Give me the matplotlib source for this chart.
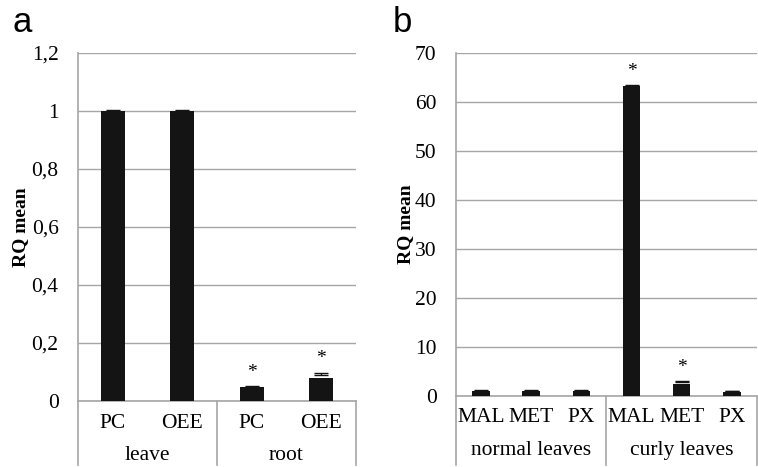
import matplotlib.pyplot as plt
import matplotlib.transforms as mtransforms

# panel a
a_labels = ['PC', 'OEE', 'PC', 'OEE']
a_values = [1.0, 1.0, 0.046, 0.08]
a_errors = [0.003, 0.003, 0.003, 0.015]
a_star = [False, False, True, True]
a_groups = ['leave', 'root']
a_ticks = [0, 0.2, 0.4, 0.6, 0.8, 1.0, 1.2]
a_ticklabels = ['0', '0,2', '0,4', '0,6', '0,8', '1', '1,2']

# panel b
b_labels = ['MAL', 'MET', 'PX', 'MAL', 'MET', 'PX']
b_values = [1.0, 1.0, 1.0, 63.2, 2.45, 0.85]
b_errors = [0.1, 0.1, 0.1, 0.3, 0.55, 0.1]
b_star = [False, False, False, True, True, False]
b_groups = ['normal leaves', 'curly leaves']
b_ticks = [0, 10, 20, 30, 40, 50, 60, 70]

plt.rcParams['font.family'] = ['Liberation Serif', 'DejaVu Serif']

fig = plt.figure(figsize=(7.58, 4.67), dpi=100)
ax1 = fig.add_axes([0.1029, 0.142, 0.3668, 0.7445])
ax2 = fig.add_axes([0.6016, 0.1527, 0.397, 0.7338])

grid_col = '#a6a6a6'
bar_col = '#141414'


def draw(ax, labels, values, errors, stars, groups, ticks, ticklabels, ymax,
         star_off, sep_depth, tick_y, group_y, ylab_x):
    x = list(range(len(values)))
    ax.bar(x, values, width=0.35, color=bar_col, zorder=3)
    ax.errorbar(x, [v + e / 2 for v, e in zip(values, errors)],
                yerr=[[0] * len(errors), [e / 2 for e in errors]],
                fmt='none', ecolor=bar_col, elinewidth=1, capsize=5,
                capthick=1, zorder=4)
    for xi, v, e, s in zip(x, values, errors, stars):
        if s:
            ax.text(xi, v + e + star_off, '*', ha='center', va='bottom',
                    fontsize=14)
    ax.set_xlim(-0.5, len(values) - 0.5)
    ax.set_ylim(0, ymax)
    ax.set_yticks(ticks)
    ax.set_yticklabels(ticklabels, fontsize=15.5)
    ax.yaxis.grid(True, color=grid_col, linewidth=1, zorder=0)
    ax.set_axisbelow(True)
    ax.tick_params(axis='y', length=0, pad=14)
    ax.set_xticks([])
    for sp in ['top', 'right']:
        ax.spines[sp].set_visible(False)
    for sp in ['left', 'bottom']:
        ax.spines[sp].set_color(grid_col)
        ax.spines[sp].set_linewidth(1.2)
    ax.set_ylabel('RQ mean', fontsize=14, fontweight='bold')
    ax.yaxis.set_label_coords(ylab_x, 0.5)

    trans = mtransforms.blended_transform_factory(ax.transData, ax.transAxes)
    n = len(values)
    per = n // len(groups)
    seps = [-0.5 + i * per for i in range(len(groups) + 1)]
    for s in seps:
        ax.plot([s, s], [0, -sep_depth], color=grid_col, linewidth=1.2,
                transform=trans, clip_on=False)
    for xi, lab in zip(x, labels):
        ax.text(xi, tick_y, lab, ha='center', va='center', fontsize=15.5,
                transform=trans)
    for i, g in enumerate(groups):
        ax.text((seps[i] + seps[i + 1]) / 2, group_y, g, ha='center',
                va='center', fontsize=15.5, transform=trans)


draw(ax1, a_labels, a_values, a_errors, a_star, a_groups, a_ticks,
     a_ticklabels, 1.2, 0.02, 0.185, -0.067, -0.159, -0.176)
draw(ax2, b_labels, b_values, b_errors, b_star, b_groups, b_ticks,
     [str(t) for t in b_ticks], 70, 1.0, 0.202, -0.065, -0.161, -0.14)

fig.text(12 / 758, 1 - 22 / 467, 'a', fontsize=25, family='Liberation Sans',
         va='center', ha='left')
fig.text(393 / 758, 1 - 22 / 467, 'b', fontsize=25, family='Liberation Sans',
         va='center', ha='left')

fig.savefig('out.png', dpi=100)
